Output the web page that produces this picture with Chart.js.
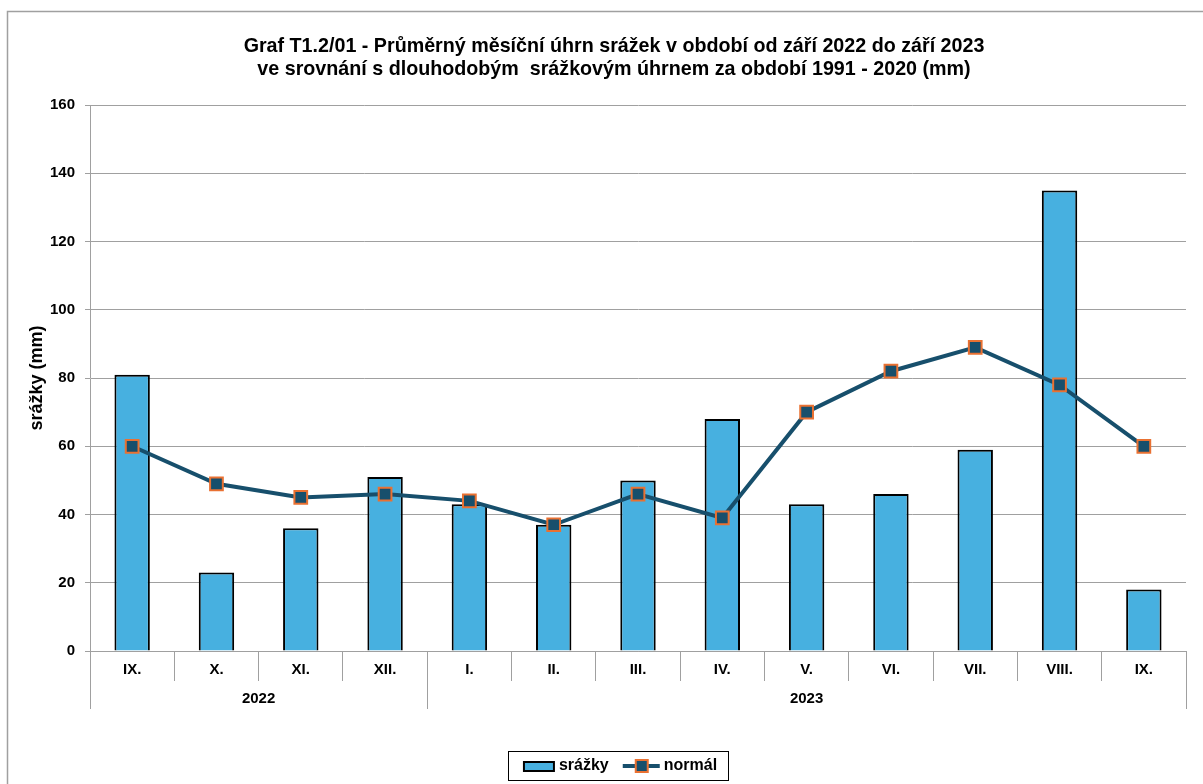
<!DOCTYPE html>
<html>
<head>
<meta charset="utf-8">
<script src="https://cdn.jsdelivr.net/npm/chart.js@4/dist/chart.umd.min.js"></script>
<style>
  html, body { margin: 0; padding: 0; background: #fff; }
  #wrap { width: 1203px; height: 784px; }
</style>
</head>
<body>
<div id="wrap"><canvas id="c" width="1203" height="784"></canvas></div>
<script>
const months = ['IX.', 'X.', 'XI.', 'XII.', 'I.', 'II.', 'III.', 'IV.', 'V.', 'VI.', 'VII.', 'VIII.', 'IX.'];
const yearLabels = ['2022', '2023'];
const yearSpans = [4, 9];
const srazky = [81, 23, 36, 51, 43, 37, 50, 68, 43, 46, 59, 135, 18];
const normal = [60, 49, 45, 46, 44, 37, 46, 39, 70, 82, 89, 78, 60];
const yTicks = [0, 20, 40, 60, 80, 100, 120, 140, 160];
const titleLines = [
  'Graf T1.2/01 - Průměrný měsíční úhrn srážek v období od září 2022 do září 2023',
  've srovnání s dlouhodobým  srážkovým úhrnem za období 1991 - 2020 (mm)'
];

const BAR = '#47B0E0';
const LINE = '#174F6C';
const ORANGE = '#E97132';
const GRID = '#A0A0A0';

Chart.defaults.font.family = "'Liberation Sans', Arial, sans-serif";
Chart.defaults.font.weight = 'bold';
Chart.defaults.color = '#000';

const ICON_W = 64, ICON_H = 16;
function barIcon() {
  const c = document.createElement('canvas');
  c.width = ICON_W; c.height = ICON_H;
  const g = c.getContext('2d');
  g.fillStyle = BAR; g.fillRect(24, 3, 32, 11);
  g.strokeStyle = '#000'; g.lineWidth = 2; g.strokeRect(25, 4, 30, 9);
  return c;
}
function lineIcon() {
  const c = document.createElement('canvas');
  c.width = ICON_W; c.height = ICON_H;
  const g = c.getContext('2d');
  g.strokeStyle = LINE; g.lineWidth = 4;
  g.beginPath(); g.moveTo(19, 8); g.lineTo(56, 8); g.stroke();
  g.fillStyle = LINE; g.fillRect(32, 2, 12, 12);
  g.strokeStyle = ORANGE; g.lineWidth = 2; g.strokeRect(32, 2, 12, 12);
  return c;
}
const icons = [barIcon(), lineIcon()];

const framePlugin = {
  id: 'frame',
  beforeDraw(chart) {
    const ctx = chart.ctx;
    ctx.save();
    ctx.fillStyle = '#fff';
    ctx.fillRect(0, 0, chart.width, chart.height);
    ctx.strokeStyle = '#A0A0A0';
    ctx.lineWidth = 1.5;
    ctx.strokeRect(7.5, 11.5, 1200, 800);
    ctx.restore();
  }
};

const yearPlugin = {
  id: 'years',
  afterDraw(chart) {
    const x = chart.scales.x;
    const ctx = chart.ctx;
    const half = (x.getPixelForValue(1) - x.getPixelForValue(0)) / 2;
    ctx.save();
    ctx.strokeStyle = GRID;
    ctx.lineWidth = 1;
    ctx.fillStyle = '#000';
    ctx.font = "bold 15px 'Liberation Sans', Arial, sans-serif";
    ctx.textAlign = 'center';
    ctx.textBaseline = 'middle';
    let start = 0;
    const edges = [start];
    yearSpans.forEach((span, i) => {
      const a = x.getPixelForValue(start) - half;
      const b = x.getPixelForValue(start + span - 1) + half;
      ctx.fillText(yearLabels[i], (a + b) / 2, x.top + 48);
      start += span;
      edges.push(start);
    });
    edges.forEach(e => {
      const px = Math.round((e < months.length ? x.getPixelForValue(e) - half : x.getPixelForValue(months.length - 1) + half)) + 0.5;
      ctx.beginPath();
      ctx.moveTo(px, x.top + 29);
      ctx.lineTo(px, x.top + 58);
      ctx.stroke();
    });
    // legend frame
    const lg = chart.legend;
    if (lg && lg.legendHitBoxes && lg.legendHitBoxes.length) {
      const hb = lg.legendHitBoxes;
      const l = Math.min(...hb.map(h => h.left)) - 3;
      const r = Math.max(...hb.map(h => h.left + h.width)) + 11;
      const t = Math.min(...hb.map(h => h.top)) - 7;
      const bt = Math.max(...hb.map(h => h.top + h.height)) + 6;
      ctx.strokeStyle = '#000';
      ctx.lineWidth = 1;
      ctx.strokeRect(Math.round(l) + 0.5, Math.round(t) + 0.5, Math.round(r - l), Math.round(bt - t));
    }
    ctx.restore();
  }
};

new Chart(document.getElementById('c'), {
  data: {
    labels: months,
    datasets: [
      {
        type: 'line',
        label: 'normál',
        data: normal,
        borderColor: LINE,
        borderWidth: 4,
        pointStyle: 'rect',
        pointRadius: 9,
        pointHoverRadius: 9,
        pointBackgroundColor: LINE,
        pointBorderColor: ORANGE,
        pointBorderWidth: 2,
        tension: 0,
        order: 0
      },
      {
        type: 'bar',
        label: 'srážky',
        data: srazky,
        backgroundColor: BAR,
        borderColor: '#000',
        borderWidth: 2,
        borderSkipped: 'start',
        barPercentage: 0.42,
        categoryPercentage: 1,
        order: 1
      }
    ]
  },
  options: {
    responsive: false,
    animation: false,
    devicePixelRatio: 1,
    layout: { padding: { left: 42, right: 17, top: 0, bottom: 0 } },
    plugins: {
      title: {
        display: true,
        text: titleLines,
        font: { size: 19.7, weight: 'bold', lineHeight: 1.17 },
        color: '#000',
        padding: { top: 35, bottom: 24 }
      },
      legend: {
        position: 'bottom',
        labels: {
          usePointStyle: true,
          pointStyleWidth: 40,
          padding: 7,
          font: { size: 16, weight: 'bold' },
          color: '#000',
          generateLabels(chart) {
            return [1, 0].map(i => {
              const ds = chart.data.datasets[i];
              return {
                text: ds.label,
                pointStyle: icons[i === 1 ? 0 : 1],
                fillStyle: 'transparent',
                strokeStyle: 'transparent',
                lineWidth: 0,
                datasetIndex: i,
                hidden: false
              };
            });
          }
        }
      },
      tooltip: { enabled: false }
    },
    scales: {
      x: {
        type: 'category',
        offset: true,
        grid: {
          offset: true,
          drawOnChartArea: false,
          drawTicks: true,
          tickLength: 30,
          color: GRID
        },
        border: { color: GRID, width: 1 },
        ticks: {
          padding: -20,
          font: { size: 15, weight: 'bold' },
          color: '#000',
          maxRotation: 0,
          autoSkip: false
        },
        afterFit(scale) { scale.height = 100; }
      },
      y: {
        type: 'linear',
        min: 0,
        max: 160,
        afterBuildTicks(scale) { scale.ticks = yTicks.map(v => ({ value: v })); },
        grid: { color: GRID, tickLength: 5 },
        border: { color: GRID, width: 1 },
        ticks: {
          padding: 10,
          font: { size: 15, weight: 'bold' },
          color: '#000'
        },
        title: {
          display: true,
          text: 'srážky (mm)',
          font: { size: 18, weight: 'bold' },
          color: '#000',
          padding: { top: -16, bottom: 0 }
        },
        afterFit(scale) { scale.width = 48; }
      }
    }
  },
  plugins: [framePlugin, yearPlugin]
});
</script>
</body>
</html>
